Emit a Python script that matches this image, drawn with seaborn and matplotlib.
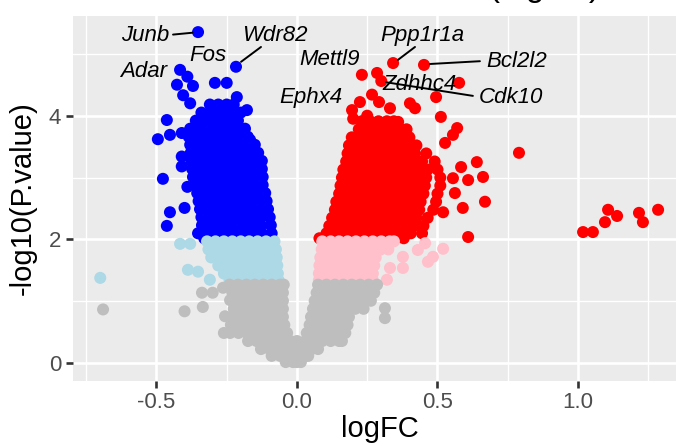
import pandas as pd
import seaborn as sns
import matplotlib.pyplot as plt

# values: (-log10 p, [logFC, ...]) rows of the dense clouds
blue_rows = [
    (4.18, [-0.31, -0.28, -0.25, -0.225]),
    (4.05, [-0.34, -0.31, -0.28, -0.25, -0.22, -0.20]),
    (3.92, [-0.36, -0.33, -0.30, -0.27, -0.24, -0.21]),
    (3.79, [-0.38, -0.35, -0.32, -0.29, -0.26, -0.23, -0.20, -0.185]),
    (3.66, [-0.385, -0.355, -0.325, -0.295, -0.265, -0.235, -0.205, -0.175]),
    (3.53, [-0.38, -0.35, -0.32, -0.29, -0.26, -0.23, -0.20, -0.17, -0.15]),
    (3.40, [-0.378, -0.348, -0.318, -0.288, -0.258, -0.228, -0.198, -0.168, -0.138]),
    (3.27, [-0.376, -0.346, -0.316, -0.286, -0.256, -0.226, -0.196, -0.166, -0.136, -0.125]),
    (3.14, [-0.373, -0.343, -0.313, -0.283, -0.253, -0.223, -0.193, -0.163, -0.133, -0.125]),
    (3.01, [-0.37, -0.34, -0.31, -0.28, -0.25, -0.22, -0.19, -0.16, -0.13, -0.122]),
    (2.88, [-0.362, -0.332, -0.302, -0.272, -0.242, -0.212, -0.182, -0.152, -0.122]),
    (2.75, [-0.355, -0.325, -0.295, -0.265, -0.235, -0.205, -0.175, -0.145, -0.113]),
    (2.62, [-0.35, -0.32, -0.29, -0.26, -0.23, -0.20, -0.17, -0.14, -0.108]),
    (2.49, [-0.345, -0.315, -0.285, -0.255, -0.225, -0.195, -0.165, -0.135, -0.103]),
    (2.36, [-0.34, -0.31, -0.28, -0.25, -0.22, -0.19, -0.16, -0.13, -0.097]),
    (2.23, [-0.338, -0.308, -0.278, -0.248, -0.218, -0.188, -0.158, -0.128, -0.093]),
    (2.10, [-0.335, -0.305, -0.275, -0.245, -0.215, -0.185, -0.155, -0.125, -0.09]),
    (2.02, [-0.33, -0.30, -0.27, -0.24, -0.21, -0.18, -0.15, -0.12, -0.09]),
]
blue_extra = [(-0.352, 5.35), (-0.217, 4.79), (-0.416, 4.74), (-0.39, 4.63), (-0.427, 4.50),
              (-0.37, 4.48), (-0.292, 4.53), (-0.25, 4.53), (-0.214, 4.30), (-0.178, 4.09),
              (-0.405, 4.33), (-0.38, 4.20), (-0.463, 3.93), (-0.495, 3.62), (-0.452, 3.69),
              (-0.41, 3.72), (-0.41, 3.34), (-0.41, 3.18), (-0.477, 2.98), (-0.39, 2.85),
              (-0.452, 2.44), (-0.40, 2.51), (-0.463, 2.22), (-0.352, 2.10), (-0.214, 3.88),
              (-0.167, 3.61)]

red_rows = [
    (3.91, [0.23, 0.26, 0.29, 0.32, 0.345]),
    (3.78, [0.22, 0.25, 0.28, 0.31, 0.34, 0.37, 0.39]),
    (3.65, [0.195, 0.225, 0.255, 0.285, 0.315, 0.345, 0.375, 0.40]),
    (3.52, [0.185, 0.215, 0.245, 0.275, 0.305, 0.335, 0.365, 0.395, 0.425]),
    (3.39, [0.18, 0.21, 0.24, 0.27, 0.30, 0.33, 0.36, 0.39, 0.42, 0.46]),
    (3.26, [0.175, 0.205, 0.235, 0.265, 0.295, 0.325, 0.355, 0.385, 0.415, 0.445, 0.49]),
    (3.13, [0.165, 0.195, 0.225, 0.255, 0.285, 0.315, 0.345, 0.375, 0.405, 0.435, 0.465, 0.50]),
    (3.00, [0.16, 0.19, 0.22, 0.25, 0.28, 0.31, 0.34, 0.37, 0.40, 0.43, 0.46, 0.51]),
    (2.87, [0.155, 0.185, 0.215, 0.245, 0.275, 0.305, 0.335, 0.365, 0.395, 0.425, 0.455, 0.51]),
    (2.74, [0.15, 0.18, 0.21, 0.24, 0.27, 0.30, 0.33, 0.36, 0.39, 0.42, 0.45, 0.50]),
    (2.61, [0.14, 0.17, 0.20, 0.23, 0.26, 0.29, 0.32, 0.35, 0.38, 0.41, 0.44, 0.495]),
    (2.48, [0.135, 0.165, 0.195, 0.225, 0.255, 0.285, 0.315, 0.345, 0.375, 0.405, 0.435, 0.485]),
    (2.35, [0.125, 0.155, 0.185, 0.215, 0.245, 0.275, 0.305, 0.335, 0.365, 0.395, 0.425, 0.465]),
    (2.22, [0.115, 0.145, 0.175, 0.205, 0.235, 0.265, 0.295, 0.325, 0.355, 0.385, 0.415, 0.45]),
    (2.10, [0.105, 0.135, 0.165, 0.195, 0.225, 0.255, 0.285, 0.315, 0.345, 0.375, 0.405]),
    (2.02, [0.08, 0.11, 0.14, 0.17, 0.20, 0.23, 0.26, 0.29, 0.32, 0.35, 0.38]),
]
red_extra = [(0.342, 4.85), (0.452, 4.82), (0.231, 4.66), (0.285, 4.69), (0.30, 4.56),
             (0.577, 4.53), (0.267, 4.34), (0.224, 4.22), (0.292, 4.22), (0.331, 4.12),
             (0.402, 4.20), (0.42, 4.12), (0.196, 4.09), (0.495, 4.30), (0.512, 3.98),
             (0.57, 3.80), (0.555, 3.69), (0.527, 3.56), (0.64, 3.25), (0.584, 3.17),
             (0.662, 3.01), (0.609, 2.96), (0.555, 2.99), (0.562, 2.75), (0.59, 2.51),
             (0.669, 2.61), (0.52, 2.44), (0.609, 2.04), (0.445, 2.10), (0.79, 3.40),
             (1.018, 2.12), (1.053, 2.12), (1.096, 2.28), (1.107, 2.48), (1.139, 2.38),
             (1.217, 2.43), (1.231, 2.28), (1.285, 2.48), (0.20, 3.95), (0.25, 4.0),
             (0.36, 3.90)]

lightblue_rows = [
    (1.97, [-0.32, -0.29, -0.26, -0.23, -0.20, -0.17, -0.14, -0.11, -0.08]),
    (1.84, [-0.315, -0.285, -0.255, -0.225, -0.195, -0.165, -0.135, -0.105, -0.075]),
    (1.71, [-0.305, -0.275, -0.245, -0.215, -0.185, -0.155, -0.125, -0.095, -0.072]),
    (1.58, [-0.28, -0.25, -0.22, -0.19, -0.16, -0.13, -0.10, -0.07]),
    (1.45, [-0.26, -0.23, -0.20, -0.17, -0.14, -0.11, -0.08, -0.068]),
    (1.34, [-0.24, -0.21, -0.18, -0.15, -0.12, -0.09, -0.065]),
]
lightblue_extra = [(-0.70, 1.38), (-0.416, 1.93), (-0.38, 1.93), (-0.388, 1.51),
                   (-0.352, 1.48), (-0.31, 1.35)]

pink_rows = [
    (1.97, [0.09, 0.12, 0.15, 0.18, 0.21, 0.24, 0.27, 0.30, 0.33, 0.345]),
    (1.84, [0.088, 0.118, 0.148, 0.178, 0.208, 0.238, 0.268, 0.298, 0.325]),
    (1.71, [0.083, 0.113, 0.143, 0.173, 0.203, 0.233, 0.263, 0.28]),
    (1.58, [0.08, 0.11, 0.14, 0.17, 0.20, 0.23, 0.26, 0.275]),
    (1.45, [0.078, 0.108, 0.138, 0.168, 0.198, 0.228, 0.258, 0.27]),
    (1.34, [0.078, 0.108, 0.138, 0.168, 0.198, 0.228, 0.258, 0.27]),
]
pink_extra = [(0.331, 1.54), (0.377, 1.54), (0.377, 1.72), (0.43, 1.83), (0.456, 1.94),
              (0.466, 1.64), (0.484, 1.72), (0.52, 1.85), (0.32, 1.35)]

grey_rows = [
    (1.27, [-0.24, -0.21, -0.18, -0.15, -0.12, -0.09, -0.06, -0.047,
            0.075, 0.105, 0.135, 0.165, 0.195, 0.225, 0.255, 0.285]),
    (1.14, [-0.23, -0.20, -0.17, -0.14, -0.11, -0.08, -0.05,
            0.07, 0.10, 0.13, 0.16, 0.19, 0.22, 0.25, 0.275]),
    (1.01, [-0.217, -0.19, -0.16, -0.13, -0.10, -0.07, -0.05,
            0.063, 0.093, 0.123, 0.153, 0.183, 0.213, 0.243, 0.263]),
    (0.88, [-0.225, -0.195, -0.165, -0.135, -0.105, -0.075, -0.05,
            0.057, 0.087, 0.117, 0.147, 0.177, 0.207, 0.237]),
    (0.75, [-0.23, -0.20, -0.17, -0.14, -0.11, -0.08, -0.05,
            0.05, 0.08, 0.11, 0.14, 0.17, 0.185]),
    (0.62, [-0.235, -0.205, -0.175, -0.145, -0.115, -0.085, -0.055, -0.045,
            0.045, 0.075, 0.105, 0.135, 0.165, 0.18]),
    (0.49, [-0.238, -0.208, -0.178, -0.148, -0.118, -0.088, -0.058, -0.035,
            0.035, 0.065, 0.095, 0.125, 0.155, 0.172]),
    (0.36, [-0.174, -0.144, -0.114, -0.084, -0.054, -0.024, 0.0, 0.03, 0.06, 0.09, 0.12, 0.15, 0.16]),
    (0.23, [-0.128, -0.098, -0.068, -0.038, -0.008, 0.022, 0.052, 0.075]),
    (0.12, [-0.09, -0.06, -0.03, 0.0, 0.03, 0.04]),
    (0.02, [-0.04, -0.014, 0.0, 0.014]),
]
grey_extra = [(-0.69, 0.87), (-0.40, 0.84), (-0.335, 0.91), (-0.338, 1.14), (-0.30, 1.14),
              (-0.263, 1.22), (-0.26, 0.49), (-0.256, 0.76), (-0.238, 1.02),
              (0.313, 0.89), (0.313, 0.73)]

label_genes = ["Junb", "Wdr82", "Fos", "Adar", "Ppp1r1a", "Bcl2l2", "Mettl9", "Ephx4", "Zdhhc4", "Cdk10"]
# where the label text sits (layout)
label_pos = [(-0.541, 5.30), (-0.078, 5.30), (-0.317, 4.98), (-0.544, 4.72), (0.448, 5.30),
             (0.783, 4.87), (0.117, 4.90), (0.05, 4.30), (0.438, 4.50), (0.762, 4.30)]
# repel segments (layout): text end -> point end
segments = [((-0.441, 5.31), (-0.372, 5.34)), ((-0.128, 5.11), (-0.199, 4.87)),
            ((0.42, 5.11), (0.359, 4.90)), ((0.651, 4.88), (0.473, 4.835)),
            ((0.626, 4.32), (0.317, 4.54))]

colors = {"down": "#0000FF", "up": "#FF0000", "down_weak": "#ADD8E6",
          "up_weak": "#FFC0CB", "ns": "#BEBEBE"}


def to_frame(rows, extra, group):
    fc, lp = [], []
    for y, xs in rows:
        fc += xs
        lp += [y] * len(xs)
    for x, y in extra:
        fc.append(x)
        lp.append(y)
    return pd.DataFrame({"logFC": fc, "logp": lp, "group": group})


# draw order: strong first, weak on top, grey last
df = pd.concat([
    to_frame(blue_rows, blue_extra, "down"),
    to_frame(red_rows, red_extra, "up"),
    to_frame(lightblue_rows, lightblue_extra, "down_weak"),
    to_frame(pink_rows, pink_extra, "up_weak"),
    to_frame(grey_rows, grey_extra, "ns"),
], ignore_index=True)

sns.set_theme(rc={"axes.facecolor": "#EBEBEB", "grid.color": "white"})
plt.rcParams["font.family"] = ["Liberation Sans", "DejaVu Sans"]

fig = plt.figure(figsize=(6.76, 4.46), dpi=100)
ax = fig.add_axes([72.7 / 676, 65.3 / 446, 613.5 / 676, 365.0 / 446])

sns.scatterplot(data=df, x="logFC", y="logp", hue="group", palette=colors,
                s=75, linewidth=0, alpha=1, legend=False, ax=ax, zorder=3)

for (x0, y0), (x1, y1) in segments:
    ax.plot([x0, x1], [y0, y1], color="black", lw=1.4, zorder=4)
for name, (tx, ty) in zip(label_genes, label_pos):
    ax.text(tx, ty, name, fontsize=16, style="italic", color="black",
            ha="center", va="center", zorder=5)

ax.set_xlim(-0.798, 1.385)
ax.set_ylim(-0.281, 5.615)
ax.set_xticks([-0.5, 0.0, 0.5, 1.0])
ax.set_xticklabels(["-0.5", "0.0", "0.5", "1.0"])
ax.set_yticks([0, 2, 4])
ax.set_yticklabels(["0", "2", "4"])
ax.set_xticks([-0.75, -0.25, 0.25, 0.75, 1.25], minor=True)
ax.set_yticks([1, 3, 5], minor=True)
ax.grid(which="major", color="white", lw=1.9)
ax.grid(which="minor", color="white", lw=0.95)
ax.set_axisbelow(True)
for sp in ax.spines.values():
    sp.set_visible(False)
ax.tick_params(which="major", length=4.8, width=1.9, color="#333333",
               labelcolor="#4D4D4D", labelsize=16, pad=3.5)
ax.tick_params(which="minor", length=0)
ax.tick_params(axis="x", which="major", bottom=True)
ax.tick_params(axis="y", which="major", left=True)
ax.set_xlabel("logFC", fontsize=21, color="black", labelpad=1.5)
ax.set_ylabel("-log10(P.value)", fontsize=21, color="black", labelpad=9)

# title runs off the top edge in the reference, only its lowest strokes show
fig.text(600 / 676, 1 + 4 / 446, "Volcano (logFC)", ha="right", va="baseline",
         fontsize=24, color="black")

fig.savefig("out.png", dpi=100)
